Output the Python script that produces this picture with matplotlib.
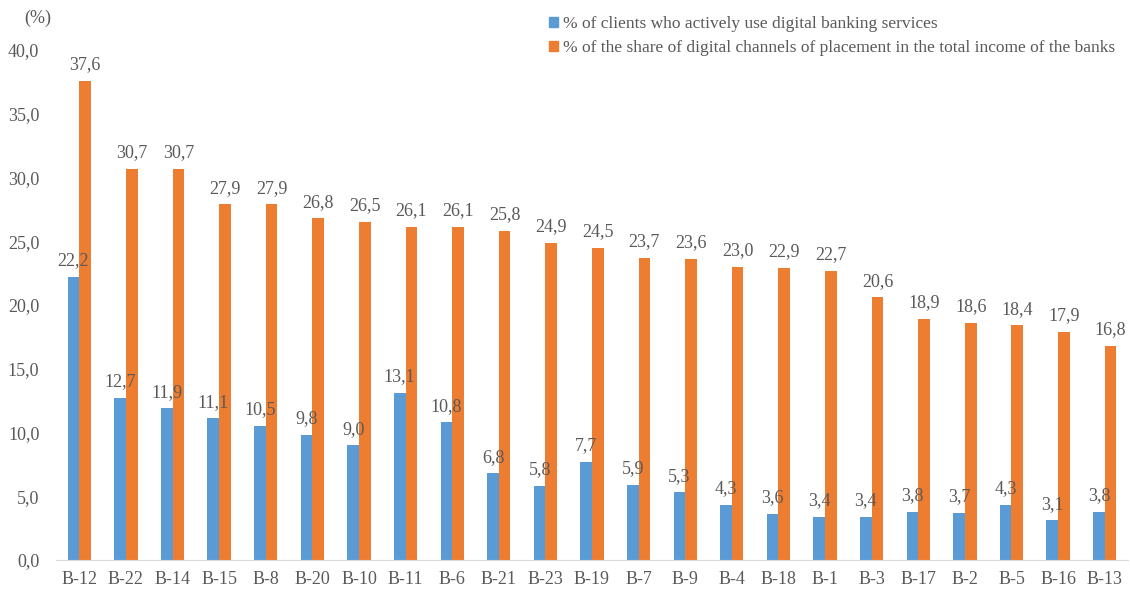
import matplotlib
matplotlib.use("Agg")
import matplotlib.pyplot as plt
import numpy as np
from matplotlib.patches import Patch

categories = ["B-12", "B-22", "B-14", "B-15", "B-8", "B-20", "B-10", "B-11", "B-6", "B-21",
              "B-23", "B-19", "B-7", "B-9", "B-4", "B-18", "B-1", "B-3", "B-17", "B-2",
              "B-5", "B-16", "B-13"]
clients = [22.2, 12.7, 11.9, 11.1, 10.5, 9.8, 9.0, 13.1, 10.8, 6.8, 5.8, 7.7, 5.9, 5.3,
           4.3, 3.6, 3.4, 3.4, 3.8, 3.7, 4.3, 3.1, 3.8]
share = [37.6, 30.7, 30.7, 27.9, 27.9, 26.8, 26.5, 26.1, 26.1, 25.8, 24.9, 24.5, 23.7, 23.6,
         23.0, 22.9, 22.7, 20.6, 18.9, 18.6, 18.4, 17.9, 16.8]
series_names = ["% of clients who actively use digital banking services",
                "% of the share of digital channels of placement in the total income of the banks"]
yticks = [0, 5, 10, 15, 20, 25, 30, 35, 40]

plt.rcParams['font.family'] = ['Liberation Serif', 'DejaVu Serif']
TXT = "#595959"
BLUE = "#5B9BD5"
ORANGE = "#ED7D31"
FS = 13

fig = plt.figure(figsize=(11.3, 5.9), dpi=100)
ax = fig.add_axes([56/1130, 30/590, 1072/1130, 510/590])

x = np.arange(len(categories))
w = 0.25
ax.bar(x - w/2, clients, w, color=BLUE, label=series_names[0])
ax.bar(x + w/2, share, w, color=ORANGE, label=series_names[1])

def fmt(v):
    return f"{v:.1f}".replace(".", ",")

for xi, v in zip(x, clients):
    ax.annotate(fmt(v), (xi - w/2, v), xytext=(0, 5.5), textcoords="offset points",
                ha="center", va="bottom", fontsize=FS, color=TXT)
for xi, v in zip(x, share):
    ax.annotate(fmt(v), (xi + w/2, v), xytext=(0, 5.5), textcoords="offset points",
                ha="center", va="bottom", fontsize=FS, color=TXT)

ax.set_xlim(-0.5, len(categories) - 0.5)
ax.set_ylim(0, 40)
ax.set_yticks(yticks)
ax.set_yticklabels([fmt(t) for t in yticks], fontsize=FS, color=TXT)
ax.set_xticks(x)
ax.set_xticklabels(categories, fontsize=FS, color=TXT)
ax.tick_params(axis="both", length=0)
ax.tick_params(axis="y", pad=12)
ax.tick_params(axis="x", pad=8)
for s in ["top", "right", "left"]:
    ax.spines[s].set_visible(False)
ax.spines["bottom"].set_color("#D9D9D9")

fig.text(38/1130, 1 - 18/590, "(%)", fontsize=FS, color=TXT, ha="center", va="center")

handles = [Patch(color=BLUE), Patch(color=ORANGE)]
leg = fig.legend(handles, series_names, loc="upper left", bbox_to_anchor=(542/1130, 1 - 9/590),
                 frameon=False, fontsize=12.5, handlelength=0.5, handleheight=0.5,
                 handletextpad=0.3, labelspacing=0.45, borderaxespad=0)
for t in leg.get_texts():
    t.set_color(TXT)

fig.savefig("out.png", dpi=100)
